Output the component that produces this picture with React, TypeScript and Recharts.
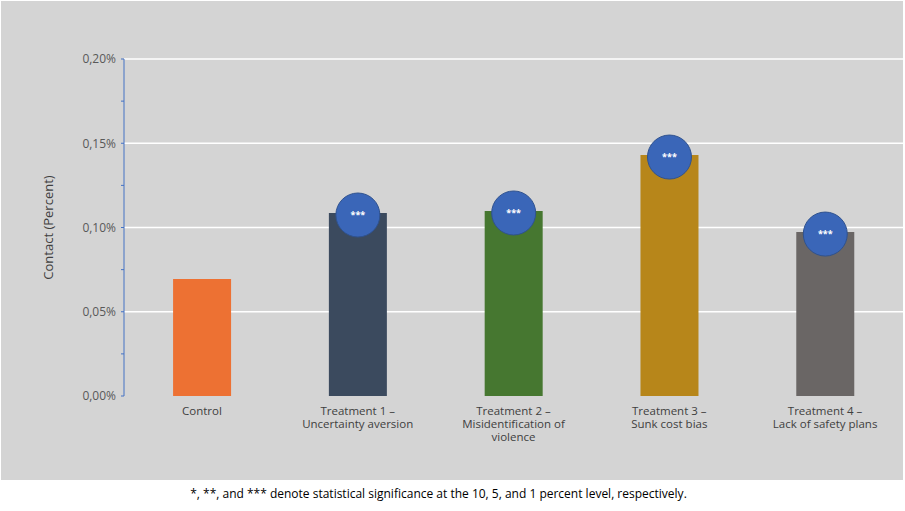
import React from "react";
import { Bar, BarChart, CartesianGrid, Cell, LabelList, XAxis, YAxis } from "recharts";

const categories = [
  "Control",
  "Treatment 1 –\nUncertainty aversion",
  "Treatment 2 –\nMisidentification of\nviolence",
  "Treatment 3 –\nSunk cost bias",
  "Treatment 4 –\nLack of safety plans",
];
const contactValues = [0.0694, 0.1086, 0.1098, 0.143, 0.0973];
const significance = ["", "***", "***", "***", "***"];
const barColors = ["#ED7133", "#3B4A5E", "#467730", "#B7861A", "#6A6665"];
const majorTicks = [0, 0.05, 0.1, 0.15, 0.2];
const allTicks = [0, 0.025, 0.05, 0.075, 0.1, 0.125, 0.15, 0.175, 0.2];

const data = categories.map((name, i) => ({
  name,
  value: contactValues[i],
  sig: significance[i],
}));

const FONT = "'Open Sans', sans-serif";

const fmt = (v: number) => {
  const isMajor = majorTicks.some((m) => Math.abs(m - v) < 1e-9);
  return isMajor ? v.toFixed(2).replace(".", ",") + "%" : "";
};

function CategoryTick(props: any) {
  const { x, y, payload } = props;
  const lines = String(payload.value).split("\n");
  return (
    <text x={x} y={y + 11} textAnchor="middle" fill="#404040" fontSize={11.5} fontFamily={FONT}>
      {lines.map((l, i) => (
        <tspan key={i} x={x} dy={i === 0 ? 0 : 12.8}>
          {l}
        </tspan>
      ))}
    </text>
  );
}

function SigBubble(props: any) {
  const { x, y, width, value } = props;
  if (!value) return null;
  const cx = x + width / 2;
  const cy = y + 2;
  return (
    <g>
      <circle cx={cx} cy={cy} r={22} fill="#3A66B8" stroke="#2F528F" strokeWidth={1} />
      <text x={cx} y={cy + 3} textAnchor="middle" fill="#ffffff" fontSize={9} fontWeight="bold" fontFamily={FONT}>
        {value}
      </text>
    </g>
  );
}

export default function App() {
  return (
    <div style={{ position: "absolute", left: 0, top: 0, width: 905, height: 511, background: "#ffffff" }}>
      <div style={{ position: "absolute", left: 1, top: 1, width: 902, height: 479, background: "#D4D4D4" }}>
        <BarChart
          width={902}
          height={479}
          data={data}
          margin={{ top: 58, right: 0, bottom: 0, left: 0 }}
          barCategoryGap="31.5%"
        >
          <CartesianGrid
            vertical={false}
            horizontalValues={majorTicks.slice(1)}
            stroke="#ffffff"
            strokeWidth={1.5}
          />
          <XAxis
            dataKey="name"
            axisLine={false}
            tickLine={false}
            interval={0}
            height={84}
            tick={<CategoryTick />}
          />
          <YAxis
            type="number"
            domain={[0, 0.2]}
            ticks={allTicks}
            interval={0}
            tickFormatter={fmt}
            width={123}
            axisLine={{ stroke: "#4472C4", strokeWidth: 1 }}
            tickLine={{ stroke: "#4472C4" }}
            tickSize={3}
            tickMargin={5}
            tick={{ fill: "#595959", fontSize: 12, fontFamily: FONT }}
            label={{
              value: "Contact (Percent)",
              angle: -90,
              position: "insideLeft",
              offset: 47,
              style: { textAnchor: "middle", fill: "#404040", fontSize: 13, fontFamily: FONT },
            }}
          />
          <Bar dataKey="value" isAnimationActive={false}>
            {data.map((_, i) => (
              <Cell key={i} fill={barColors[i]} />
            ))}
            <LabelList dataKey="sig" content={<SigBubble />} />
          </Bar>
        </BarChart>
      </div>
      <div
        style={{
          position: "absolute",
          left: 0,
          width: 877,
          top: 485,
          textAlign: "center",
          fontFamily: FONT,
          fontSize: 12,
          color: "#000000",
        }}
      >
        *, **, and *** denote statistical significance at the 10, 5, and 1 percent level, respectively.
      </div>
    </div>
  );
}
